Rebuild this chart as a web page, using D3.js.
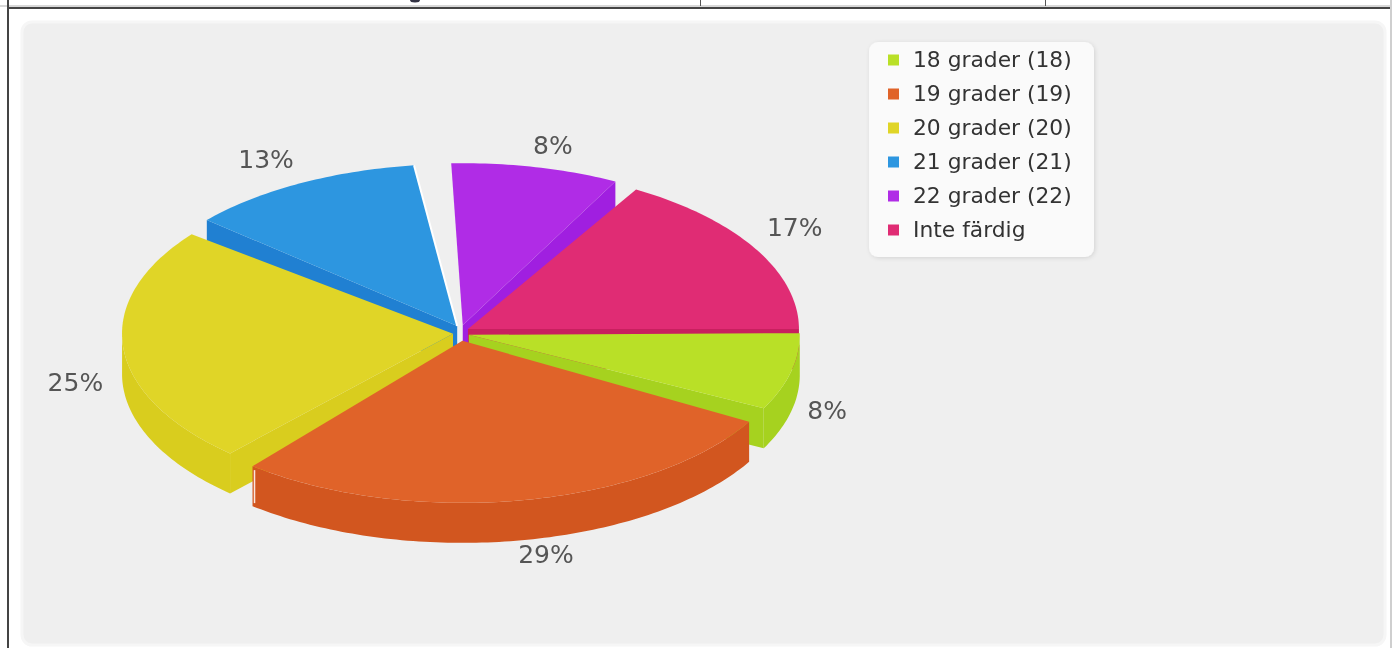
<!DOCTYPE html>
<html><head><meta charset="utf-8">
<script src="https://cdnjs.cloudflare.com/ajax/libs/d3/7.8.5/d3.min.js"></script>
<style>html,body{margin:0;padding:0;background:#fff;overflow:hidden}svg{display:block;filter:blur(.55px)}text{font-family:"DejaVu Sans",sans-serif}</style>
</head><body><svg id="c" width="1392" height="648"></svg>
<script>
const legendLabels = ["18 grader (18)","19 grader (19)","20 grader (20)","21 grader (21)","22 grader (22)","Inte färdig"];
const counts = [2,7,6,3,2,4];
const percentLabels = ["8%","29%","25%","13%","8%","17%"];
const topColors = ["#b9e027","#e06329","#e0d527","#2d96e0","#b02ce6","#e02c74"];
const wallColors = ["#a6d21f","#d2561f","#d9cd1e","#2080d2","#a01fe0","#c8205f"];
const paintOrder = [4,3,5,2,0,1];
const labelNudge = [[-7,27],[16,19],[-2,31],[-16,8],[11,12],[2,-2]];

const W=1392,H=648,cx=461,cy=333,rx=331,ry=162,depth=40,explode=8;
const svg=d3.select("#c");
const sx=d3.scaleLinear().domain([-1,1]).range([-rx,rx]);
const sy=d3.scaleLinear().domain([-1,1]).range([-ry,ry]);
const deg=Math.PI/180;
// the reference's projection squeezes angles slightly
const warpDelta=d3.scaleLinear().domain([0,30,135,225,267,270,300,360]).range([0,-3,-3.4,-3.4,-4.5,-2,-1,0]);
const warp=t=>t+warpDelta(t/deg)*deg;
const pie=d3.pie().value(d=>d).sort(null).padAngle(3*deg);
const arcs=pie(counts);
const line=d3.line().x(d=>d[0]).y(d=>d[1]);
const pt=(c,t,dz=0)=>[c[0]+sx(Math.cos(t)),c[1]+sy(Math.sin(t))+dz];

// page frame
svg.append("rect").attr("x",0).attr("y",5).attr("width",W).attr("height",2).attr("fill","#d8d8d8");
svg.append("rect").attr("x",7).attr("y",7).attr("width",1383).attr("height",2).attr("fill","#444");
svg.append("rect").attr("x",7).attr("y",0).attr("width",2).attr("height",H).attr("fill","#444");
svg.append("rect").attr("x",1390).attr("y",0).attr("width",2).attr("height",H).attr("fill","#cfcfcf");
[700,1045].forEach(x=>svg.append("rect").attr("x",x).attr("y",0).attr("width",1).attr("height",6).attr("fill","#555"));
svg.append("ellipse").attr("cx",415).attr("cy",0).attr("rx",5).attr("ry",2.5).attr("fill","#334");

// panel
svg.append("rect").attr("x",22).attr("y",22).attr("width",1363).attr("height",623).attr("rx",10)
  .attr("fill","#efefef").attr("stroke","#f6f6f6").attr("stroke-width",3);

// pie
const g=svg.append("g");
paintOrder.forEach(i=>{
  const a=arcs[i];
  const t0=i===0?warp(a.startAngle)-0.6*deg:warp(a.startAngle+a.padAngle/2);
  const t1=i===counts.length-1?warp(a.endAngle):warp(a.endAngle-a.padAngle/2);
  const mid=(t0+t1)/2;
  const c=[cx+explode*Math.cos(mid),cy+explode*Math.sin(mid)];
  const steps=Math.ceil((t1-t0)/deg);
  const ts=d3.range(steps+1).map(k=>t0+(t1-t0)*k/steps);
  const wall=t=>{
    const p=pt(c,t);
    g.append("path").attr("fill",wallColors[i])
      .attr("d",line([c,p,[p[0],p[1]+depth],[c[0],c[1]+depth]])+"Z");
  };
  if(Math.cos(t0)<-0.2) wall(t0);
  if(Math.cos(t1)>0) wall(t1);
  const vis=ts.filter(t=>Math.sin(t)>=-0.001);
  if(vis.length>1){
    g.append("path").attr("fill",wallColors[i])
      .attr("d",line(vis.map(t=>pt(c,t)).concat(vis.slice().reverse().map(t=>pt(c,t,depth))))+"Z");
  }
  g.append("path").attr("fill",topColors[i])
    .attr("d",line([c].concat(ts.map(t=>pt(c,t))))+"Z");
  if(i===3){
    g.append("path").attr("fill","none").attr("stroke","#fff").attr("stroke-width",2)
      .attr("d",line([c,pt(c,t1)]));
  }
  if(i===1){
    const p=pt(c,t1);
    g.append("path").attr("fill","none").attr("stroke","#fbe6dc").attr("stroke-width",1.5)
      .attr("d",line([[p[0]+2,p[1]+4],[p[0]+2,p[1]+depth-3]]));
  }
  const m=(warp(a.startAngle)+warp(a.endAngle))/2;
  g.append("text").attr("x",cx+385*Math.cos(m)+labelNudge[i][0]).attr("y",cy+205*Math.sin(m)+labelNudge[i][1]+9)
    .attr("text-anchor","middle").attr("font-size",25).attr("fill","#555").text(percentLabels[i]);
});

// legend
const defs=svg.append("defs");
const f=defs.append("filter").attr("id","sh").attr("x","-10%").attr("y","-10%").attr("width","120%").attr("height","120%");
f.append("feDropShadow").attr("dx",1).attr("dy",1).attr("stdDeviation",2).attr("flood-color","#000").attr("flood-opacity",.12);
svg.append("rect").attr("x",869).attr("y",42).attr("width",225).attr("height",215).attr("rx",9).attr("fill","#fafafa").attr("filter","url(#sh)");
const rowY=d3.scalePoint().domain(d3.range(legendLabels.length)).range([60,230]);
legendLabels.forEach((l,i)=>{
  svg.append("rect").attr("x",888).attr("y",rowY(i)-5.5).attr("width",11).attr("height",11).attr("fill",topColors[i]);
  svg.append("text").attr("x",913).attr("y",rowY(i)+7).attr("font-size",21.8).attr("fill","#333").text(l);
});
</script></body></html>
